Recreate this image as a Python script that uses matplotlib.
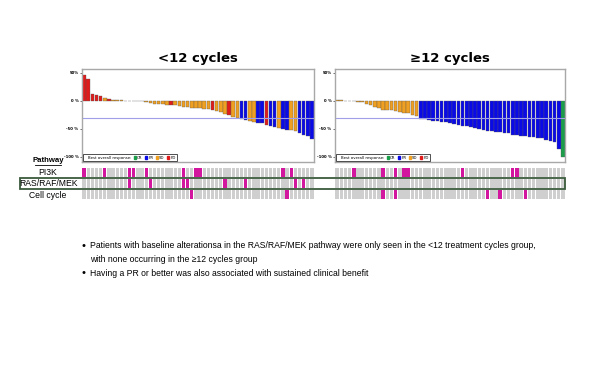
import matplotlib.pyplot as plt
from matplotlib.patches import Patch, Rectangle

# best % change from baseline, waterfall order
left_vals = [46, 39, 12, 11, 8, 6, 4, 2, 2, 1, 0.5, 0.5, 0.4, -0.5,
             -1, -2, -4, -5, -5, -6, -7, -7, -8, -9, -10, -11, -12, -12,
             -13, -14, -15, -16, -18, -20, -23, -26, -29, -30, -33, -34,
             -36, -37, -39, -40, -43, -44, -46, -48, -50, -51, -52, -54,
             -57, -60, -63, -68]
left_resp = ['PD'] * 5 + ['SD', 'PD'] + ['SD'] * 14 + ['PD'] + ['SD'] * 9 + \
            ['PD', 'SD', 'SD', 'SD', 'PD', 'SD', 'SD', 'PR', 'PR', 'SD', 'SD',
             'PR', 'PR', 'PD', 'PR', 'PR', 'SD', 'PR', 'PR', 'SD', 'SD',
             'PR', 'PR', 'PR', 'PR']

right_vals = [2, 1, 0.5, -0.8, -1, -1.5, -2, -6, -7, -10, -12, -16, -16,
              -17, -18, -20, -21, -22, -25, -27,
              -33, -33, -34, -36, -36, -38, -38, -40, -42, -43, -44, -45,
              -47, -48, -50, -51, -53, -54, -55, -56, -57, -58, -60, -61,
              -62, -63, -64, -65, -66, -67, -69, -71, -73, -85, -100]
right_resp = ['SD', 'SD', 'SD', 'PR'] + ['SD'] * 16 + ['PR'] * 34 + ['CR']

# patients with a pathway alteration (index in waterfall order)
pathways = ['PI3K', 'RAS/RAF/MEK', 'Cell cycle']
left_alt = {'PI3K': [0, 5, 11, 12, 15, 24, 27, 28, 48, 50],
            'RAS/RAF/MEK': [11, 16, 24, 25, 34, 39, 51, 53],
            'Cell cycle': [26, 49]}
right_alt = {'PI3K': [4, 11, 14, 16, 17, 30, 42, 43],
             'RAS/RAF/MEK': [],
             'Cell cycle': [11, 14, 36, 39, 45]}

colors = {'CR': '#1a9e4a', 'PR': '#0a0ae6', 'SD': '#f0a020', 'PD': '#e01b1b'}
W, H = 600, 365


def fbox(x0, y0, x1, y1):
    return [x0 / W, 1 - y1 / H, (x1 - x0) / W, (y1 - y0) / H]


fig = plt.figure(figsize=(6, 3.65), dpi=100)


def waterfall(rect, vals, resp, title):
    ax = fig.add_axes(rect)
    x = range(len(vals))
    ax.bar(x, vals, width=0.86, color=[colors[r] for r in resp],
           edgecolor='#5a5a5a', linewidth=0.25)
    ax.axhline(-30, color='#a0a0e8', lw=0.8)
    ax.set_xlim(-0.5, len(vals) - 0.5)
    ax.set_ylim(-109, 57)
    ax.set_xticks([])
    ax.set_yticks([50, 0, -50, -100])
    ax.set_yticklabels(['50%', '0 %', '-50 %', '-100 %'], fontsize=2.8,
                       fontweight='bold')
    ax.tick_params(axis='y', length=1.5, width=0.4, pad=1)
    for s in ax.spines.values():
        s.set_color('#a8a8a8')
        s.set_linewidth(1.0)
    ax.set_title(title, fontsize=9.5, fontweight='bold', pad=5)
    handles = [Patch(color='none')] + [Patch(color=colors[k]) for k in ['CR', 'PR', 'SD', 'PD']]
    labels = ['Best overall response:', 'CR', 'PR', 'SD', 'PD']
    leg = ax.legend(handles, labels, loc='lower left', ncol=5, fontsize=2.8,
                    handlelength=0.6, handleheight=0.6, handletextpad=0.3,
                    columnspacing=0.6, borderpad=0.35, fancybox=False,
                    borderaxespad=0.25)
    leg.get_frame().set_edgecolor('black')
    leg.get_frame().set_linewidth(0.6)
    return ax


def heatmap(rect, n, alt):
    ax = fig.add_axes(rect)
    for r, p in enumerate(pathways):
        cols = ['#d2169e' if i in alt[p] else '#cfcfcf' for i in range(n)]
        ax.bar(range(n), 0.86, bottom=r - 0.43, width=0.82, color=cols)
    ax.set_xlim(-0.5, n - 0.5)
    ax.set_ylim(2.5, -0.5)
    ax.axis('off')
    return ax


waterfall(fbox(82, 69, 314, 162), left_vals, left_resp, '<12 cycles')
waterfall(fbox(335, 69, 565, 162), right_vals, right_resp, '≥12 cycles')
heatmap(fbox(82, 167, 314, 200), len(left_vals), left_alt)
heatmap(fbox(335, 167, 565, 200), len(right_vals), right_alt)

font = 'Liberation Sans'
fig.text(48 / W, 1 - 160.5 / H, 'Pathway', ha='center', va='center',
         fontsize=5.6, fontweight='bold', family=font)
fig.add_artist(plt.Line2D([35 / W, 61 / W], [1 - 165 / H, 1 - 165 / H],
                          color='black', lw=0.6))
for p, y in zip(pathways, [172, 183.5, 195]):
    fig.text(48 / W, 1 - y / H, p, ha='center', va='center', fontsize=6.2,
             family=font)

fig.add_artist(Rectangle((20 / W, 1 - 189 / H), 545 / W, 10.5 / H,
                         transform=fig.transFigure, fill=False,
                         edgecolor='#3b5a3b', lw=1.3))

bullets = [
    (246, 'Patients with baseline alterationsa in the RAS/RAF/MEK pathway were only seen in the <12 treatment cycles group,', True),
    (259, 'with none occurring in the ≥12 cycles group', False),
    (273, 'Having a PR or better was also associated with sustained clinical benefit', True),
]
texts = []
for y, txt, dot in bullets:
    if dot:
        fig.text(81 / W, 1 - y / H, '•', ha='left', va='center', fontsize=8,
                 family=font)
    texts.append(fig.text(90 / W, 1 - y / H, txt, ha='left', va='center',
                          fontsize=6, family=font))

# fit the first (longest) line to the width it takes in the reference
renderer = fig.canvas.get_renderer()
width = texts[0].get_window_extent(renderer).width
size = 6 * 450 / width
for t in texts:
    t.set_fontsize(size)

fig.savefig('out.png', dpi=100)
